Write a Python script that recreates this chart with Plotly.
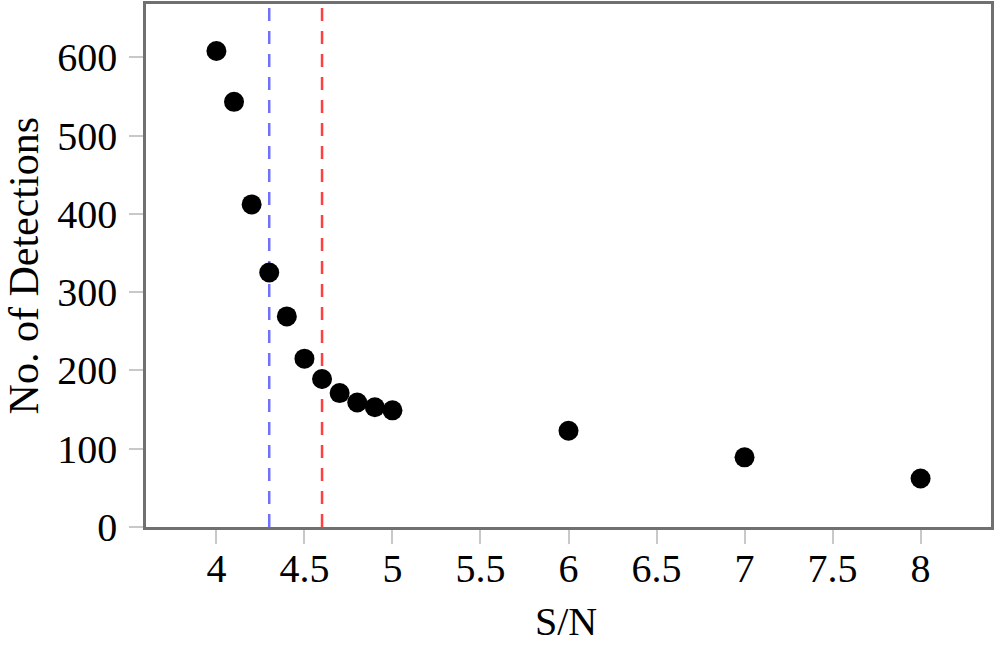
import plotly.graph_objects as go

sn = [4.0, 4.1, 4.2, 4.3, 4.4, 4.5, 4.6, 4.7, 4.8, 4.9, 5.0, 6.0, 7.0, 8.0]
detections = [608, 543, 412, 325, 269, 215, 189, 171, 159, 153, 149, 123, 89, 62]

threshold_x = [4.3, 4.6]
threshold_colors = ["#7070ff", "#ff4040"]

x_ticks = [4, 4.5, 5, 5.5, 6, 6.5, 7, 7.5, 8]
x_tick_labels = ["4", "4.5", "5", "5.5", "6", "6.5", "7", "7.5", "8"]
y_ticks = [0, 100, 200, 300, 400, 500, 600]

x_title = "S/N"
y_title = "No. of Detections"

font_family = "Liberation Serif"

fig = go.Figure()
fig.add_trace(go.Scatter(
    x=sn, y=detections, mode="markers",
    marker=dict(size=20, color="black"),
    showlegend=False,
))

for xv, col in zip(threshold_x, threshold_colors):
    fig.add_shape(type="line", xref="x", yref="paper", x0=xv, x1=xv, y0=0, y1=1,
                  line=dict(color=col, width=2.5, dash="13px,10px"), layer="below")

fig.add_annotation(text=y_title, xref="paper", yref="paper", x=-0.1445, y=0.5,
                   xanchor="center", yanchor="middle", textangle=-90,
                   showarrow=False, borderpad=0, font=dict(size=42))
fig.add_annotation(text=x_title, xref="paper", yref="paper", x=0.497, y=-0.181,
                   xanchor="center", yanchor="middle", borderpad=0,
                   showarrow=False, font=dict(size=40))

fig.update_layout(
    width=996, height=648,
    margin=dict(l=146, r=5, t=4, b=121),
    paper_bgcolor="white", plot_bgcolor="white",
    font=dict(family=font_family, size=40, color="black"),
)
fig.update_xaxes(
    range=[3.6, 8.4], tickvals=x_ticks, ticktext=x_tick_labels,
    showgrid=False, zeroline=False, automargin=False,
    showline=True, mirror=True, linecolor="#707070", linewidth=2.5,
    ticks="outside", ticklen=14, tickwidth=2, tickcolor="#c8c8c8",
    ticklabelstandoff=-10,
)
fig.update_yaxes(
    range=[0, 668], tickvals=y_ticks,
    showgrid=False, zeroline=False, automargin=False,
    showline=True, mirror=True, linecolor="#707070", linewidth=2.5,
    ticks="outside", ticklen=14, tickwidth=2, tickcolor="#c8c8c8",
    ticklabelstandoff=4,
)

fig.write_html("out.html")
